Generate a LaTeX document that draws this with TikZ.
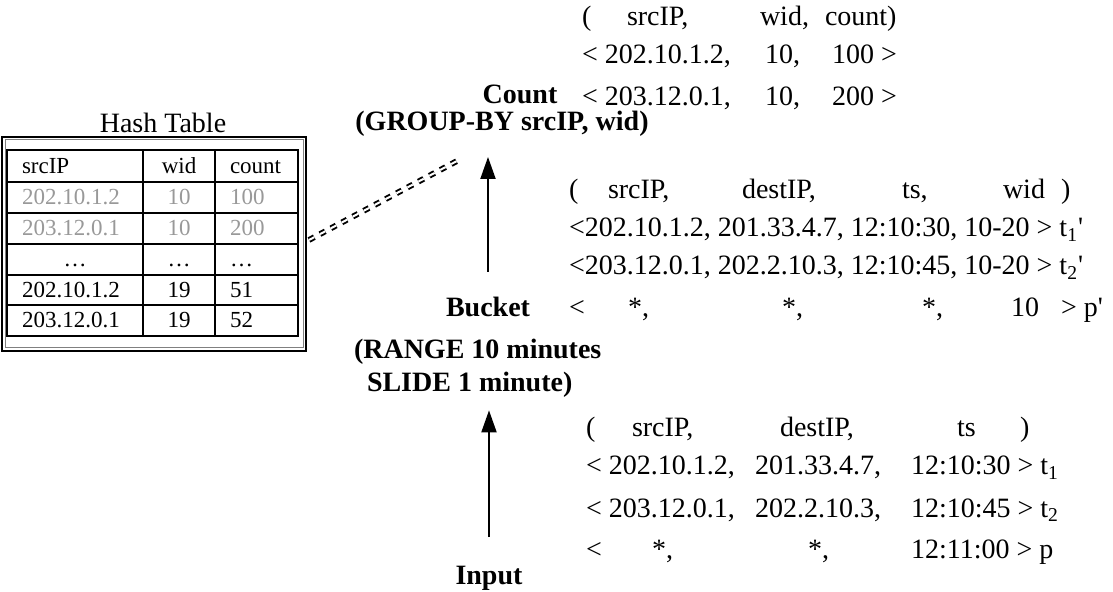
\documentclass[tikz,border=0pt]{standalone}
\usepackage{fontspec}
\setmainfont{Liberation Serif}
\usetikzlibrary{arrows.meta}
\definecolor{fadegray}{gray}{0.6}
\begin{document}
\begin{tikzpicture}[x=0.5pt,y=-0.5pt,
  every node/.style={inner sep=0pt,outer sep=0pt},
  txt/.style={anchor=base west,font=\fontsize{14}{16}\selectfont},
  lbl/.style={anchor=base,font=\fontsize{14}{16}\selectfont\bfseries},
  lblw/.style={anchor=base west,font=\fontsize{14}{16}\selectfont\bfseries},
  cellc/.style={anchor=base,font=\fontsize{11.5}{13}\selectfont},
  cellw/.style={anchor=base west,font=\fontsize{11.5}{13}\selectfont},
  faded/.style={text=fadegray},
  flow/.style={-{Triangle[length=11pt,width=7.5pt]},line width=1pt},
  tabline/.style={line width=0.9pt},
  dashlink/.style={double,double distance=1pt,line width=0.95pt,dash pattern=on 3pt off 3.2pt}]
\useasboundingbox (0,0) rectangle (1113,592);

% ---------------- Hash table ----------------
\node[anchor=base,font=\fontsize{14}{16}\selectfont] (htitle) at (163,133) {Hash Table};
\node[draw,line width=0.9pt,minimum width=152pt,minimum height=107pt] (hashframe) at (154,244) {};
\draw[gray,line width=0.5pt] ([shift={(1.5pt,-1.5pt)}]hashframe.north west) rectangle ([shift={(-1.5pt,1.5pt)}]hashframe.south east);
\draw[tabline] (7,150) rectangle (298,336);
\foreach \yy in {182,213,244,275,305} \draw[tabline] (7,\yy) -- (298,\yy);
\foreach \xx in {143,215} \draw[tabline] (\xx,150) -- (\xx,336);

\node[cellw] (h1) at (22,174) {srcIP};
\node[cellc] (h2) at (179,174) {wid};
\node[cellw] (h3) at (230,174) {count};
\node[cellw,faded] (r1a) at (22,205) {202.10.1.2};
\node[cellc,faded] (r1b) at (179,205) {10};
\node[cellw,faded] (r1c) at (230,205) {100};
\node[cellw,faded] (r2a) at (22,236) {203.12.0.1};
\node[cellc,faded] (r2b) at (179,236) {10};
\node[cellw,faded] (r2c) at (230,236) {200};
\node[cellc] (r3a) at (75,267) {\ldots};
\node[cellc] (r3b) at (179,267) {\ldots};
\node[cellw] (r3c) at (230,267) {\ldots};
\node[cellw] (r4a) at (22,298) {202.10.1.2};
\node[cellc] (r4b) at (179,298) {19};
\node[cellw] (r4c) at (230,298) {51};
\node[cellw] (r5a) at (22,328) {203.12.0.1};
\node[cellc] (r5b) at (179,328) {19};
\node[cellw] (r5c) at (230,328) {52};

\coordinate (dashend) at (457,161);
\draw[dashlink] ([shift={(1.5pt,2pt)}]hashframe.east) -- (dashend);

% ---------------- Count block ----------------
\node[txt] (t1a) at (582,26) {(};
\node[txt] (t1b) at (627,26) {srcIP,};
\node[txt] (t1c) at (760,26) {wid,};
\node[txt] (t1d) at (825,26) {count)};
\node[txt] (t2a) at (582,64) {< 202.10.1.2,};
\node[txt] (t2b) at (765,64) {10,};
\node[txt] (t2c) at (832,64) {100 >};
\node[txt] (t3a) at (582,106) {< 203.12.0.1,};
\node[txt] (t3b) at (765,106) {10,};
\node[txt] (t3c) at (832,106) {200 >};
\node[lbl] (count) at (520,104) {Count};
\node[lbl] (grp) at (502,131) {(GROUP-BY srcIP, wid)};

% ---------------- Bucket block ----------------
\node[txt] (m0a) at (569,199) {(};
\node[txt] (m0b) at (608,199) {srcIP,};
\node[txt] (m0c) at (742,199) {destIP,};
\node[txt] (m0d) at (902,199) {ts,};
\node[txt] (m0e) at (1003,199) {wid};
\node[txt] (m0f) at (1061,199) {)};
\node[txt] (m1) at (569,237) {<202.10.1.2, 201.33.4.7, 12:10:30, 10-20 > t\textsubscript{1}\textquotesingle};
\node[txt] (m2) at (569,275) {<203.12.0.1, 202.2.10.3, 12:10:45, 10-20 > t\textsubscript{2}\textquotesingle};
\node[txt] (m3a) at (569,317) {<};
\node[txt] (m3b) at (628,317) {*,};
\node[txt] (m3c) at (782,317) {*,};
\node[txt] (m3d) at (922,317) {*,};
\node[txt] (m3e) at (1011,317) {10};
\node[txt] (m3f) at (1061,317) {> p\textquotesingle};
\node[lbl] (bucket) at (488,317) {Bucket};
\node[lblw] (range) at (354,359) {(RANGE 10 minutes};
\node[lblw] (slide) at (367,392) {SLIDE 1 minute)};

% ---------------- Input block ----------------
\node[txt] (b0a) at (586,437) {(};
\node[txt] (b0b) at (632,437) {srcIP,};
\node[txt] (b0c) at (780,437) {destIP,};
\node[txt] (b0d) at (957,437) {ts};
\node[txt] (b0e) at (1020,437) {)};
\node[txt] (b1a) at (586,475) {< 202.10.1.2,};
\node[txt] (b1b) at (755,475) {201.33.4.7,};
\node[txt] (b1c) at (911,475) {12:10:30 > t\textsubscript{1}};
\node[txt] (b2a) at (586,517) {< 203.12.0.1,};
\node[txt] (b2b) at (755,517) {202.2.10.3,};
\node[txt] (b2c) at (911,517) {12:10:45 > t\textsubscript{2}};
\node[txt] (b3a) at (586,559) {<};
\node[txt] (b3b) at (652,559) {*,};
\node[txt] (b3c) at (808,559) {*,};
\node[txt] (b3d) at (911,559) {12:11:00 > p};
\node[lbl] (input) at (489,584) {Input};

% ---------------- arrows ----------------
\draw[flow,shorten <=13pt,shorten >=10pt] (bucket.north) -- (bucket.north |- grp.south);
\draw[flow,shorten <=14.25pt,shorten >=6.2pt] (input.north) -- (input.north |- slide.south);
\end{tikzpicture}
\end{document}
